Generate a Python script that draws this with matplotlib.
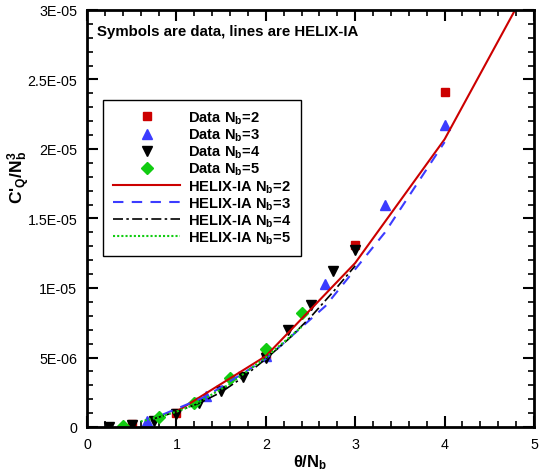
import matplotlib
matplotlib.use("Agg")
import matplotlib.pyplot as plt
from matplotlib.ticker import MultipleLocator, FuncFormatter

plt.rcParams["font.family"] = ["Liberation Sans", "DejaVu Sans"]
plt.rcParams["mathtext.fontset"] = "custom"
plt.rcParams["mathtext.bf"] = "Liberation Sans:bold"
plt.rcParams["mathtext.rm"] = "Liberation Sans:bold"
plt.rcParams["mathtext.default"] = "bf"

# measured data (theta/Nb, C'Q/Nb^3)
data_x_nb2 = [0.5, 1.0, 2.0, 3.0, 4.0]
data_y_nb2 = [0.2e-6, 1.0e-6, 5.2e-6, 13.1e-6, 24.1e-6]
data_x_nb3 = [0.667, 1.333, 2.0, 2.667, 3.333, 4.0]
data_y_nb3 = [0.4e-6, 2.2e-6, 5.1e-6, 10.3e-6, 16.0e-6, 21.7e-6]
data_x_nb4 = [0.25, 0.5, 0.75, 1.0, 1.25, 1.5, 1.75, 2.0, 2.25, 2.5, 2.75, 3.0]
data_y_nb4 = [0.0, 0.15e-6, 0.4e-6, 0.95e-6, 1.7e-6, 2.6e-6, 3.6e-6,
              5.0e-6, 7.0e-6, 8.8e-6, 11.2e-6, 12.7e-6]
data_x_nb5 = [0.4, 0.8, 1.2, 1.6, 2.0, 2.4]
data_y_nb5 = [0.1e-6, 0.7e-6, 1.7e-6, 3.5e-6, 5.6e-6, 8.2e-6]

# HELIX-IA predictions
helix_x_nb2 = [1.0, 2.0, 3.0, 4.0, 5.0]
helix_y_nb2 = [1.1e-6, 5.1e-6, 11.8e-6, 20.7e-6, 32.5e-6]
helix_x_nb3 = [0.85, 1.333, 2.0, 2.667, 3.333, 4.0]
helix_y_nb3 = [0.9e-6, 2.2e-6, 4.9e-6, 8.7e-6, 14.0e-6, 20.5e-6]
helix_x_nb4 = [0.75, 1.0, 1.25, 1.5, 1.75, 2.0, 2.25, 2.5, 2.75, 3.0]
helix_y_nb4 = [0.6e-6, 1.1e-6, 1.7e-6, 2.5e-6, 3.6e-6, 4.9e-6,
               6.3e-6, 7.9e-6, 9.7e-6, 11.6e-6]
helix_x_nb5 = [0.6, 0.8, 1.0, 1.2, 1.6, 2.0, 2.4]
helix_y_nb5 = [0.4e-6, 0.7e-6, 1.1e-6, 1.6e-6, 3.1e-6, 5.0e-6, 7.2e-6]

RED = "#CC0000"
BLUE = "#3C3CFF"
GREEN = "#11CC11"


def sci_fmt(v, pos):
    if abs(v) < 1e-12:
        return "0"
    s = f"{v:.1E}"
    return s.replace(".0E", "E")


fig = plt.figure(figsize=(5.41, 4.77), dpi=100)
ax = fig.add_axes([87 / 541, 49 / 477, 447 / 541, 417 / 477])

ax.plot(data_x_nb2, data_y_nb2, "s", color=RED, ms=6, ls="none", label="Data N$_b$=2")
ax.plot(data_x_nb3, data_y_nb3, "^", color=BLUE, ms=7, ls="none", label="Data N$_b$=3")
ax.plot(data_x_nb4, data_y_nb4, "v", color="black", ms=7, ls="none", label="Data N$_b$=4")
ax.plot(data_x_nb5, data_y_nb5, "D", color=GREEN, ms=6, ls="none", label="Data N$_b$=5")

ax.plot(helix_x_nb2, helix_y_nb2, "-", color=RED, lw=1.5, label="HELIX-IA N$_b$=2")
ax.plot(helix_x_nb3, helix_y_nb3, color=BLUE, lw=1.5, ls=(0, (5, 4)), label="HELIX-IA N$_b$=3")
ax.plot(helix_x_nb4, helix_y_nb4, color="black", lw=1.2, ls=(0, (6, 2, 1.5, 2)), label="HELIX-IA N$_b$=4")
ax.plot(helix_x_nb5, helix_y_nb5, color=GREEN, lw=1.5, ls=(0, (1, 1)), label="HELIX-IA N$_b$=5")

ax.set_xlim(0, 5)
ax.set_ylim(0, 3e-5)
ax.xaxis.set_major_locator(MultipleLocator(1))
ax.xaxis.set_minor_locator(MultipleLocator(0.2))
ax.yaxis.set_major_locator(MultipleLocator(5e-6))
ax.yaxis.set_minor_locator(MultipleLocator(1e-6))
ax.yaxis.set_major_formatter(FuncFormatter(sci_fmt))
ax.tick_params(which="both", direction="in", top=True, right=True, labelsize=10.3, width=1.2)
ax.tick_params(which="major", length=8, width=1.5, pad=7)
ax.tick_params(which="minor", length=4)
for sp in ax.spines.values():
    sp.set_linewidth(2)

ax.set_xlabel("θ/N$_b$", fontsize=12, fontweight="bold", labelpad=1)
ax.set_ylabel("C'$_Q$/N$_b^3$", fontsize=12.5, fontweight="bold")
ax.yaxis.set_label_coords(-0.123, 0.6)

ax.text(0.022, 0.95, "Symbols are data, lines are HELIX-IA", transform=ax.transAxes,
        fontsize=10.8, fontweight="bold", va="center", ha="left")

leg = ax.legend(loc="upper left", bbox_to_anchor=(0.036, 0.784), borderaxespad=0,
                fancybox=False, edgecolor="black", framealpha=1,
                prop={"weight": "bold", "size": 10.6}, handlelength=4.6,
                handletextpad=0.5, labelspacing=0.05, borderpad=0.65)
leg.get_frame().set_linewidth(1.0)

fig.savefig("out.png", dpi=100)
